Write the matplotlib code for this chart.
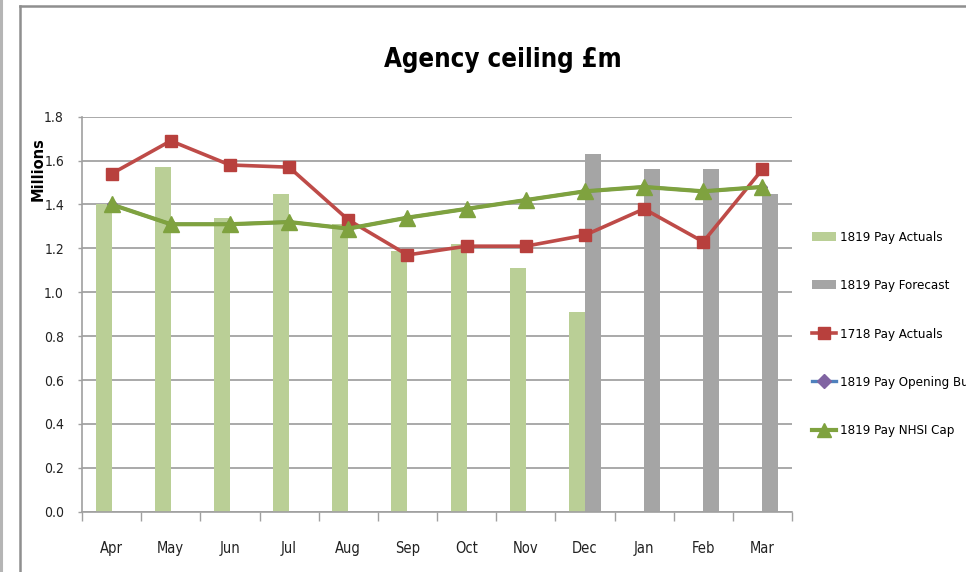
import matplotlib
matplotlib.use("Agg")
import matplotlib.pyplot as plt
from matplotlib.lines import Line2D
from matplotlib.patches import Patch
from matplotlib import font_manager as fm
import numpy as np

months = ["Apr", "May", "Jun", "Jul", "Aug", "Sep", "Oct", "Nov", "Dec", "Jan", "Feb", "Mar"]
pay_actuals_1819 = [1.40, 1.57, 1.34, 1.45, 1.31, 1.19, 1.22, 1.11, 0.91, None, None, None]
pay_forecast_1819 = [None, None, None, None, None, None, None, None, 1.63, 1.56, 1.56, 1.45]
pay_actuals_1718 = [1.54, 1.69, 1.58, 1.57, 1.33, 1.17, 1.21, 1.21, 1.26, 1.38, 1.23, 1.56]
opening_budget_1819 = [1.40, 1.31, 1.31, 1.32, 1.29, 1.34, 1.38, 1.42, 1.46, 1.48, 1.46, 1.48]
nhsi_cap_1819 = [1.40, 1.31, 1.31, 1.32, 1.29, 1.34, 1.38, 1.42, 1.46, 1.48, 1.46, 1.48]
yticks = [0.0, 0.2, 0.4, 0.6, 0.8, 1.0, 1.2, 1.4, 1.6, 1.8]
legend_labels = ["1819 Pay Actuals", "1819 Pay Forecast", "1718 Pay Actuals",
                 "1819 Pay Opening Budget", "1819 Pay NHSI Cap"]
title = "Agency ceiling £m"
ylabel = "Millions"


def _w(e):
    try:
        return int(e.weight)
    except Exception:
        return {"normal": 400, "regular": 400, "bold": 700}.get(str(e.weight), 400)


def pick_narrow():
    """Find the narrowest installed sans face family (regular, bold files)."""
    entries = [e for e in fm.fontManager.ttflist if e.style == "normal"]
    sans = ("Liberation Sans", "Noto Sans", "Roboto", "Open Sans", "DejaVu Sans", "Lato", "Inter")
    groups = {}
    for e in entries:
        base_ok = any(e.name.startswith(s) for s in sans)
        if not base_ok or "Mono" in e.name or "CJK" in e.name or "Serif" in e.name:
            continue
        n = e.name
        if "Narrow" in n:
            score = 0
        elif "ExtraCondensed" in n or e.stretch == "extra-condensed":
            score = 1
        elif "SemiCondensed" in n or e.stretch == "semi-condensed":
            score = 3
        elif "Condensed" in n or e.stretch == "condensed":
            score = 2
        else:
            continue
        groups.setdefault((score, n, e.stretch), []).append(e)
    if not groups:
        return None, None
    key = sorted(groups)[0]
    cands = groups[key]
    reg = min(cands, key=lambda e: abs(_w(e) - 400))
    bold = min(cands, key=lambda e: abs(_w(e) - 700))
    return reg.fname, bold.fname


reg_f, bold_f = pick_narrow()
if reg_f:
    FP = lambda size: fm.FontProperties(fname=reg_f, size=size)
    FPB = lambda size: fm.FontProperties(fname=bold_f, size=size)
else:
    FP = lambda size: fm.FontProperties(family="DejaVu Sans", size=size * 0.85)
    FPB = lambda size: fm.FontProperties(family="DejaVu Sans", weight="bold", size=size * 0.85)

xtick_size = 10.5
ytick_size = 10
leg_size = 9.5
title_size = 18.5

W, H = 966, 572
fig = plt.figure(figsize=(W / 100, H / 100), dpi=100)
fig.patch.set_facecolor("white")

ax = fig.add_axes([82 / W, 1 - 511.7 / H, (792 - 82) / W, (511.7 - 116.7) / H])
x = np.arange(len(months))
bw = 0.27


def arr(v):
    return np.array([np.nan if a is None else a for a in v], dtype=float)


ax.bar(x - bw / 2, arr(pay_actuals_1819), width=bw, color="#BACF96", zorder=2)
ax.bar(x + bw / 2, arr(pay_forecast_1819), width=bw, color="#A5A5A5", zorder=2)

ax.plot(x, pay_actuals_1718, color="#BE4B48", lw=2.6, marker="s", markersize=9,
        markerfacecolor="#B8403D", markeredgecolor="#B8403D", zorder=4)
ax.plot(x, opening_budget_1819, color="#4F81BD", lw=2.4, marker="D", markersize=5.5,
        markerfacecolor="#8064A2", markeredgecolor="#8064A2", zorder=5)
ax.plot(x, nhsi_cap_1819, color="#7FA23F", lw=3.0, marker="^", markersize=11,
        markerfacecolor="#7FA23F", markeredgecolor="#7FA23F", zorder=6)

ax.set_xlim(-0.5, len(months) - 0.5)
ax.set_ylim(0, 1.8)
ax.set_yticks(yticks)
ax.set_yticklabels([f"{v:.1f}" for v in yticks], fontproperties=FP(ytick_size), color="#222222")
ax.set_xticks(x)
ax.set_xticklabels(months, fontproperties=FP(xtick_size), color="#222222")
ax.set_xticks(np.arange(-0.5, len(months)), minor=True)
ax.tick_params(axis="x", which="major", length=0, pad=21)
ax.tick_params(axis="y", which="major", length=3, width=1, color="#a0a0a0", pad=10)
ax.tick_params(axis="x", which="minor", length=6.5, width=1, color="#a0a0a0", direction="out")

ax.grid(axis="y", color="#a3a3a3", lw=1.3, zorder=0)
ax.set_axisbelow(True)
for s in ["top", "right"]:
    ax.spines[s].set_visible(False)
for s in ["left", "bottom"]:
    ax.spines[s].set_color("#a0a0a0")
    ax.spines[s].set_linewidth(1.2)

fig.text(503 / W, 1 - 60 / H, title, fontproperties=FPB(title_size),
         ha="center", va="center", color="black")
fig.text(38 / W, 1 - 169 / H, ylabel, family="DejaVu Sans", fontsize=10.5,
         fontweight="bold", rotation=90, ha="center", va="center", color="black")

handles = [
    Patch(facecolor="#BACF96", edgecolor="none"),
    Patch(facecolor="#A5A5A5", edgecolor="none"),
    Line2D([], [], color="#BE4B48", lw=2.6, marker="s", markersize=9,
           markerfacecolor="#B8403D", markeredgecolor="#B8403D"),
    Line2D([], [], color="#4F81BD", lw=2.4, marker="D", markersize=7,
           markerfacecolor="#8064A2", markeredgecolor="#8064A2"),
    Line2D([], [], color="#7FA23F", lw=3.0, marker="^", markersize=10,
           markerfacecolor="#7FA23F", markeredgecolor="#7FA23F"),
]
leg_px = leg_size * 100 / 72
fig.legend(handles, legend_labels, loc="upper left", bbox_to_anchor=(812 / W, 1 - 231 / H),
           frameon=False, prop=FP(leg_size), handlelength=24 / leg_px,
           handletextpad=4 / leg_px, labelspacing=35.3 / leg_px, borderpad=0, borderaxespad=0)

# outer frame
fig.add_artist(Line2D([1 / W, 1 / W], [0, 1], transform=fig.transFigure, color="#b5b5b5", lw=2.2))
fig.add_artist(Line2D([20 / W, 20 / W], [0, 1 - 6 / H], transform=fig.transFigure, color="#8f8f8f", lw=1.8))
fig.add_artist(Line2D([20 / W, 1], [1 - 6 / H, 1 - 6 / H], transform=fig.transFigure, color="#8f8f8f", lw=1.8))

fig.savefig("out.png", dpi=100)
